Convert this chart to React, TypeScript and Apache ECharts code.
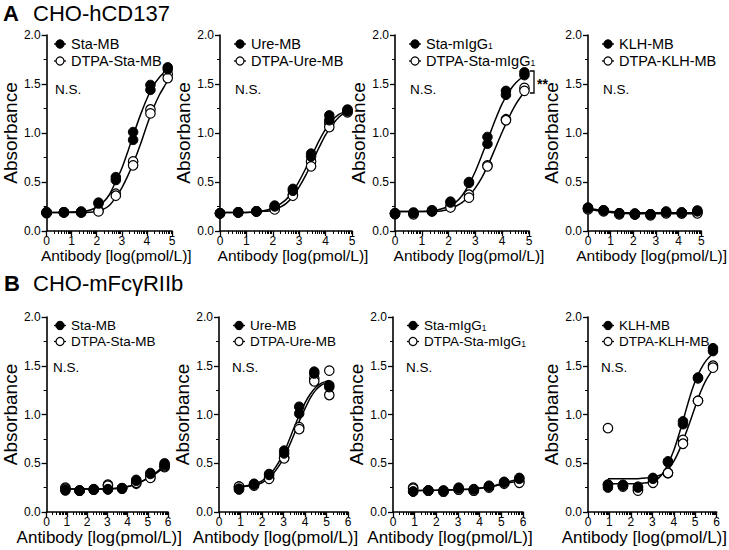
import React, { useEffect, useRef } from "react";
import * as echarts from "echarts";

const FONT = "'Liberation Sans', Arial, Helvetica, sans-serif";

// ---------- data ----------
const xA = [0, 0.69, 1.38, 2.07, 2.76, 3.45, 4.14, 4.83];
const xB = [0.93, 1.63, 2.33, 3.03, 3.73, 4.43, 5.13, 5.83];
const curveXA = [0, 0.5, 1, 1.5, 2, 2.25, 2.5, 2.75, 3, 3.25, 3.5, 3.75, 4, 4.25, 4.5, 4.75, 4.9];
const curveXB = [0.93, 1.5, 2, 2.5, 2.75, 3, 3.25, 3.5, 3.75, 4, 4.25, 4.5, 4.75, 5, 5.25, 5.5, 5.85];
const curveXB2 = [0.93, 1.5, 2, 2.5, 2.75, 3, 3.25, 3.5, 3.75, 4, 4.25, 4.5, 4.75, 5.13];

const logMinor = [0.301, 0.477, 0.602, 0.699, 0.778, 0.845, 0.903, 0.954];
const xLabel = "Antibody [log(pmol/L)]";
const yLabel = "Absorbance";

// Panel A1: Sta-MB
const a1Filled1 = [0.19, 0.19, 0.19, 0.28, 0.55, 1.01, 1.49, 1.67];
const a1Filled2 = [0.18, 0.19, 0.2, 0.29, 0.52, 0.93, 1.44, 1.65];
const a1Open1 = [0.19, 0.19, 0.19, 0.21, 0.38, 0.71, 1.24, 1.6];
const a1Open2 = [0.19, 0.19, 0.19, 0.2, 0.36, 0.67, 1.2, 1.56];
const a1FilledCurve = [0.19, 0.19, 0.195, 0.2, 0.24, 0.29, 0.37, 0.5, 0.64, 0.82, 1.01, 1.19, 1.35, 1.48, 1.57, 1.63, 1.66];
const a1OpenCurve = [0.19, 0.19, 0.19, 0.19, 0.2, 0.22, 0.26, 0.34, 0.44, 0.57, 0.72, 0.89, 1.08, 1.25, 1.39, 1.5, 1.57];

// Panel A2: Ure-MB
const a2Filled1 = [0.18, 0.19, 0.2, 0.26, 0.43, 0.79, 1.18, 1.24];
const a2Filled2 = [0.18, 0.19, 0.2, 0.25, 0.41, 0.76, 1.13, 1.22];
const a2Open1 = [0.18, 0.19, 0.2, 0.23, 0.37, 0.71, 1.1, 1.23];
const a2Open2 = [0.18, 0.19, 0.2, 0.22, 0.36, 0.66, 1.06, 1.21];
const a2FilledCurve = [0.19, 0.19, 0.19, 0.2, 0.23, 0.27, 0.32, 0.4, 0.51, 0.64, 0.78, 0.92, 1.04, 1.13, 1.19, 1.22, 1.24];
const a2OpenCurve = [0.19, 0.19, 0.19, 0.2, 0.21, 0.24, 0.28, 0.35, 0.45, 0.57, 0.71, 0.85, 0.98, 1.08, 1.16, 1.21, 1.23];

// Panel A3: Sta-mIgG1
const a3Filled1 = [0.18, 0.19, 0.21, 0.3, 0.5, 0.96, 1.43, 1.62];
const a3Filled2 = [0.17, 0.18, 0.2, 0.29, 0.49, 0.89, 1.39, 1.59];
const a3Open1 = [0.18, 0.18, 0.21, 0.25, 0.37, 0.67, 1.14, 1.46];
const a3Open2 = [0.18, 0.17, 0.2, 0.24, 0.34, 0.66, 1.13, 1.43];
const a3FilledCurve = [0.2, 0.2, 0.2, 0.21, 0.25, 0.29, 0.36, 0.47, 0.61, 0.78, 0.96, 1.14, 1.3, 1.42, 1.51, 1.57, 1.6];
const a3OpenCurve = [0.2, 0.2, 0.2, 0.2, 0.22, 0.25, 0.29, 0.35, 0.44, 0.55, 0.69, 0.85, 1.01, 1.16, 1.29, 1.39, 1.44];

// Panel A4: KLH-MB
const a4Filled1 = [0.24, 0.21, 0.18, 0.18, 0.17, 0.2, 0.19, 0.21];
const a4Filled2 = [0.23, 0.21, 0.18, 0.17, 0.17, 0.19, 0.19, 0.2];
const a4Open1 = [0.23, 0.21, 0.18, 0.17, 0.17, 0.19, 0.18, 0.19];
const a4Open2 = [0.22, 0.2, 0.17, 0.17, 0.16, 0.18, 0.18, 0.18];
const a4FilledCurve = [0.23, 0.215, 0.2, 0.19, 0.186, 0.185, 0.185, 0.185, 0.185, 0.185, 0.185, 0.185, 0.185, 0.185, 0.185, 0.185, 0.185];
const a4OpenCurve = [0.22, 0.205, 0.19, 0.18, 0.176, 0.175, 0.175, 0.175, 0.175, 0.175, 0.175, 0.175, 0.175, 0.175, 0.175, 0.175, 0.175];

// Panel B1: Sta-MB
const b1Filled1 = [0.23, 0.22, 0.235, 0.235, 0.245, 0.33, 0.39, 0.5];
const b1Filled2 = [0.22, 0.22, 0.23, 0.23, 0.245, 0.32, 0.4, 0.48];
const b1Open1 = [0.25, 0.22, 0.23, 0.28, 0.24, 0.29, 0.36, 0.46];
const b1Open2 = [0.24, 0.22, 0.23, 0.27, 0.24, 0.3, 0.35, 0.47];
const b1FilledCurve = [0.235, 0.235, 0.235, 0.235, 0.235, 0.236, 0.238, 0.242, 0.25, 0.26, 0.275, 0.295, 0.32, 0.35, 0.38, 0.42, 0.48];
const b1OpenCurve = [0.235, 0.235, 0.235, 0.235, 0.236, 0.238, 0.24, 0.245, 0.252, 0.262, 0.276, 0.295, 0.318, 0.345, 0.375, 0.41, 0.465];

// Panel B2: Ure-MB
const b2Filled1 = [0.24, 0.29, 0.39, 0.63, 1.08, 1.44, 1.3];
const b2Filled2 = [0.23, 0.28, 0.38, 0.6, 1.01, 1.42, 1.28];
const b2Open1 = [0.26, 0.28, 0.35, 0.56, 0.87, 1.37, 1.45];
const b2Open2 = [0.26, 0.27, 0.34, 0.55, 0.85, 1.34, 1.2];
const b2FilledCurve = [0.26, 0.28, 0.32, 0.42, 0.5, 0.6, 0.73, 0.87, 1.0, 1.12, 1.21, 1.28, 1.32, 1.35];
const b2OpenCurve = [0.26, 0.27, 0.3, 0.39, 0.46, 0.55, 0.67, 0.8, 0.94, 1.06, 1.17, 1.25, 1.3, 1.34];

// Panel B3: Sta-mIgG1
const b3Filled1 = [0.21, 0.22, 0.22, 0.25, 0.235, 0.27, 0.31, 0.35];
const b3Filled2 = [0.21, 0.22, 0.22, 0.24, 0.23, 0.26, 0.3, 0.34];
const b3Open1 = [0.25, 0.22, 0.21, 0.23, 0.22, 0.26, 0.3, 0.31];
const b3Open2 = [0.24, 0.22, 0.21, 0.23, 0.22, 0.25, 0.29, 0.3];
const b3FilledCurve = [0.22, 0.222, 0.224, 0.227, 0.229, 0.231, 0.233, 0.236, 0.24, 0.245, 0.252, 0.262, 0.275, 0.29, 0.305, 0.32, 0.34];
const b3OpenCurve = [0.22, 0.221, 0.222, 0.224, 0.226, 0.228, 0.23, 0.233, 0.237, 0.242, 0.249, 0.258, 0.27, 0.283, 0.295, 0.305, 0.315];

// Panel B4: KLH-MB
const b4Filled1 = [0.28, 0.28, 0.26, 0.35, 0.52, 0.93, 1.38, 1.68];
const b4Filled2 = [0.25, 0.27, 0.25, 0.34, 0.51, 0.9, 1.37, 1.65];
const b4Open1 = [0.86, 0.27, 0.23, 0.31, 0.4, 0.74, 1.14, 1.5];
const b4Open2 = [0.28, 0.26, 0.22, 0.3, 0.4, 0.7, 1.14, 1.48];
const b4FilledCurve = [0.29, 0.29, 0.29, 0.295, 0.3, 0.31, 0.34, 0.4, 0.5, 0.63, 0.8, 0.99, 1.18, 1.34, 1.46, 1.55, 1.63];
const b4OpenCurve = [0.34, 0.34, 0.34, 0.345, 0.35, 0.355, 0.37, 0.39, 0.44, 0.52, 0.63, 0.77, 0.92, 1.08, 1.23, 1.35, 1.47];

type Panel = {
  row: number;
  x: number[];
  curveX: number[];
  filledName: string;
  openName: string;
  sub: boolean;
  filled: number[][];
  open: number[][];
  filledCurve: number[];
  openCurve: number[];
};

const panels: Panel[] = [
  { row: 0, x: xA, curveX: curveXA, filledName: "Sta-MB", openName: "DTPA-Sta-MB", sub: false, filled: [a1Filled1, a1Filled2], open: [a1Open1, a1Open2], filledCurve: a1FilledCurve, openCurve: a1OpenCurve },
  { row: 0, x: xA, curveX: curveXA, filledName: "Ure-MB", openName: "DTPA-Ure-MB", sub: false, filled: [a2Filled1, a2Filled2], open: [a2Open1, a2Open2], filledCurve: a2FilledCurve, openCurve: a2OpenCurve },
  { row: 0, x: xA, curveX: curveXA, filledName: "Sta-mIgG", openName: "DTPA-Sta-mIgG", sub: true, filled: [a3Filled1, a3Filled2], open: [a3Open1, a3Open2], filledCurve: a3FilledCurve, openCurve: a3OpenCurve },
  { row: 0, x: xA, curveX: curveXA, filledName: "KLH-MB", openName: "DTPA-KLH-MB", sub: false, filled: [a4Filled1, a4Filled2], open: [a4Open1, a4Open2], filledCurve: a4FilledCurve, openCurve: a4OpenCurve },
  { row: 1, x: xB, curveX: curveXB, filledName: "Sta-MB", openName: "DTPA-Sta-MB", sub: false, filled: [b1Filled1, b1Filled2], open: [b1Open1, b1Open2], filledCurve: b1FilledCurve, openCurve: b1OpenCurve },
  { row: 1, x: xB, curveX: curveXB2, filledName: "Ure-MB", openName: "DTPA-Ure-MB", sub: false, filled: [b2Filled1, b2Filled2], open: [b2Open1, b2Open2], filledCurve: b2FilledCurve, openCurve: b2OpenCurve },
  { row: 1, x: xB, curveX: curveXB, filledName: "Sta-mIgG", openName: "DTPA-Sta-mIgG", sub: true, filled: [b3Filled1, b3Filled2], open: [b3Open1, b3Open2], filledCurve: b3FilledCurve, openCurve: b3OpenCurve },
  { row: 1, x: xB, curveX: curveXB, filledName: "KLH-MB", openName: "DTPA-KLH-MB", sub: false, filled: [b4Filled1, b4Filled2], open: [b4Open1, b4Open2], filledCurve: b4FilledCurve, openCurve: b4OpenCurve },
];

// ---------- layout ----------
const boxes = [
  { left: 40, top: 35, width: 132, height: 196 },
  { left: 220, top: 35, width: 132, height: 196 },
  { left: 395, top: 35, width: 134, height: 196 },
  { left: 588, top: 35, width: 132, height: 196 },
  { left: 40, top: 317, width: 128, height: 195 },
  { left: 219, top: 317, width: 129, height: 195 },
  { left: 393, top: 317, width: 130, height: 195 },
  { left: 588, top: 317, width: 133, height: 195 },
];

const rowStyle = [
  { xMax: 5, leg1: 9, leg2: 26, ns: 54, nsX: 15, legSize: 14.5, xNameSize: 15.5, xNamePad: [0, 0, 0, 14], xNameGap: 12 },
  { xMax: 6, leg1: 8.5, leg2: 24.5, ns: 50, nsX: 13, legSize: 13.5, xNameSize: 17, xNamePad: [0, 16, 0, 0], xNameGap: 12 },
];

function zip(xs: number[], ys: number[]) {
  return ys.map((y, i) => [xs[i], y]);
}

function legendText(name: string, sub: boolean, x: number, y: number, size: number) {
  if (!sub) {
    return { type: "text", x, y, style: { text: name, fontSize: size, fontFamily: FONT, fill: "#000", verticalAlign: "middle" } };
  }
  return {
    type: "text",
    x,
    y,
    style: {
      text: "{a|" + name + "}{s|1}",
      verticalAlign: "middle",
      rich: {
        a: { fontSize: size, fontFamily: FONT, fill: "#000" },
        s: { fontSize: 8.5, fontFamily: FONT, fill: "#000", padding: [4, 0, 0, 0] },
      },
    },
  };
}

export default function App() {
  const ref = useRef<HTMLDivElement>(null);
  useEffect(() => {
    if (!ref.current) return;
    const chart = echarts.init(ref.current, null, { renderer: "svg" });
    const grid: any[] = [];
    const xAxis: any[] = [];
    const yAxis: any[] = [];
    const series: any[] = [];
    const graphic: any[] = [];

    panels.forEach((p, i) => {
      const box = boxes[i];
      const rs = rowStyle[p.row];
      grid.push({ ...box, containLabel: false });
      const minorVals: number[] = [];
      for (let k = 0; k < rs.xMax; k++) logMinor.forEach((f) => minorVals.push(k + f));
      xAxis.push({
        gridIndex: i,
        type: "value",
        min: 0,
        max: rs.xMax,
        interval: 1,
        position: "bottom",
        axisLine: { show: true, onZero: false, lineStyle: { color: "#000", width: 1.6 } },
        axisTick: { show: true, length: 5, lineStyle: { color: "#000", width: 1.3 } },
        axisLabel: { color: "#000", fontSize: 12, fontFamily: FONT, margin: 4 },
        splitLine: { show: false },
        name: xLabel,
        nameLocation: "middle",
        nameGap: rs.xNameGap,
        nameTextStyle: { color: "#000", fontSize: rs.xNameSize, fontFamily: FONT, padding: rs.xNamePad },
      });
      xAxis.push({
        gridIndex: i,
        type: "value",
        min: 0,
        max: rs.xMax,
        interval: 1,
        position: "bottom",
        axisLine: { show: false, onZero: false },
        axisLabel: { show: false },
        splitLine: { show: false },
        axisTick: { show: true, customValues: minorVals, length: 3, lineStyle: { color: "#000", width: 1 } },
      });
      yAxis.push({
        gridIndex: i,
        type: "value",
        min: 0,
        max: 2,
        interval: 0.5,
        axisLine: { show: true, onZero: false, lineStyle: { color: "#000", width: 1.6 } },
        axisTick: { show: true, length: 5, lineStyle: { color: "#000", width: 1.3 } },
        minorTick: { show: true, splitNumber: 2, length: 3, lineStyle: { color: "#000", width: 1 } },
        axisLabel: { color: "#000", fontSize: 12, fontFamily: FONT, margin: 6, formatter: (v: number) => v.toFixed(1) },
        splitLine: { show: false },
        name: yLabel,
        nameLocation: "middle",
        nameGap: 10,
        nameTextStyle: { color: "#000", fontSize: 19, fontFamily: FONT },
      });

      const xi = i * 2;
      series.push({
        type: "line",
        xAxisIndex: xi,
        yAxisIndex: i,
        data: zip(p.curveX, p.filledCurve),
        showSymbol: false,
        smooth: 0.3,
        lineStyle: { color: "#000", width: 1.5 },
        z: 2,
        silent: true,
      });
      series.push({
        type: "line",
        xAxisIndex: xi,
        yAxisIndex: i,
        data: zip(p.curveX, p.openCurve),
        showSymbol: false,
        smooth: 0.3,
        lineStyle: { color: "#000", width: 1.5 },
        z: 2,
        silent: true,
      });
      series.push({
        type: "scatter",
        name: "DTPA-" + p.filledName,
        xAxisIndex: xi,
        yAxisIndex: i,
        data: p.open.flatMap((rep) => zip(p.x, rep)),
        symbol: "circle",
        symbolSize: 9.5,
        itemStyle: { color: "#fff", borderColor: "#000", borderWidth: 1.2, opacity: 1 },
        z: 3,
        silent: true,
      });
      series.push({
        type: "scatter",
        name: p.filledName,
        xAxisIndex: xi,
        yAxisIndex: i,
        data: p.filled.flatMap((rep) => zip(p.x, rep)),
        symbol: "circle",
        symbolSize: 9.5,
        itemStyle: { color: "#000", borderColor: "#000", borderWidth: 1, opacity: 1 },
        z: 4,
        silent: true,
      });

      graphic.push({
        type: "group",
        x: box.left,
        y: box.top,
        children: [
          { type: "line", shape: { x1: 14, y1: rs.leg1, x2: 26, y2: rs.leg1 }, style: { stroke: "#000", lineWidth: 1.3 } },
          { type: "circle", shape: { cx: 20, cy: rs.leg1, r: 4.2 }, style: { fill: "#000", stroke: "#000", lineWidth: 1 } },
          legendText(p.filledName, p.sub, 31, rs.leg1, rs.legSize),
          { type: "line", shape: { x1: 14, y1: rs.leg2, x2: 26, y2: rs.leg2 }, style: { stroke: "#000", lineWidth: 1.3 } },
          { type: "circle", shape: { cx: 20, cy: rs.leg2, r: 4 }, style: { fill: "#fff", stroke: "#000", lineWidth: 1.2 } },
          legendText(p.openName, p.sub, 31, rs.leg2, rs.legSize),
          { type: "text", x: rs.nsX, y: rs.ns, style: { text: "N.S.", fontSize: 13.5, fontFamily: FONT, fill: "#000", verticalAlign: "middle" } },
        ],
      });
    });

    // titles
    graphic.push({ type: "text", x: 3, y: 13, style: { text: "A", fontSize: 22, fontWeight: "bold", fontFamily: FONT, fill: "#000", verticalAlign: "middle" } });
    graphic.push({ type: "text", x: 33, y: 13, style: { text: "CHO-hCD137", fontSize: 22, fontFamily: FONT, fill: "#000", verticalAlign: "middle" } });
    graphic.push({ type: "text", x: 4, y: 283, style: { text: "B", fontSize: 22, fontWeight: "bold", fontFamily: FONT, fill: "#000", verticalAlign: "middle" } });
    graphic.push({ type: "text", x: 33, y: 283, style: { text: "CHO-mFcγRIIb", fontSize: 22, fontFamily: FONT, fill: "#000", verticalAlign: "middle" } });

    // significance bracket (panel A3)
    graphic.push({ type: "polyline", shape: { points: [[530, 71], [534, 71], [534, 93], [530, 93]] }, style: { stroke: "#000", lineWidth: 1.3, fill: null } });
    graphic.push({ type: "text", x: 537, y: 84, style: { text: "**", fontSize: 14, fontWeight: "bold", fontFamily: FONT, fill: "#000", verticalAlign: "middle" } });

    chart.setOption({
      animation: false,
      backgroundColor: "#fff",
      grid,
      xAxis,
      yAxis,
      series,
      graphic,
    });
    return () => chart.dispose();
  }, []);

  return <div ref={ref} style={{ position: "fixed", left: 0, top: 0, width: 729, height: 550, background: "#fff" }} />;
}
